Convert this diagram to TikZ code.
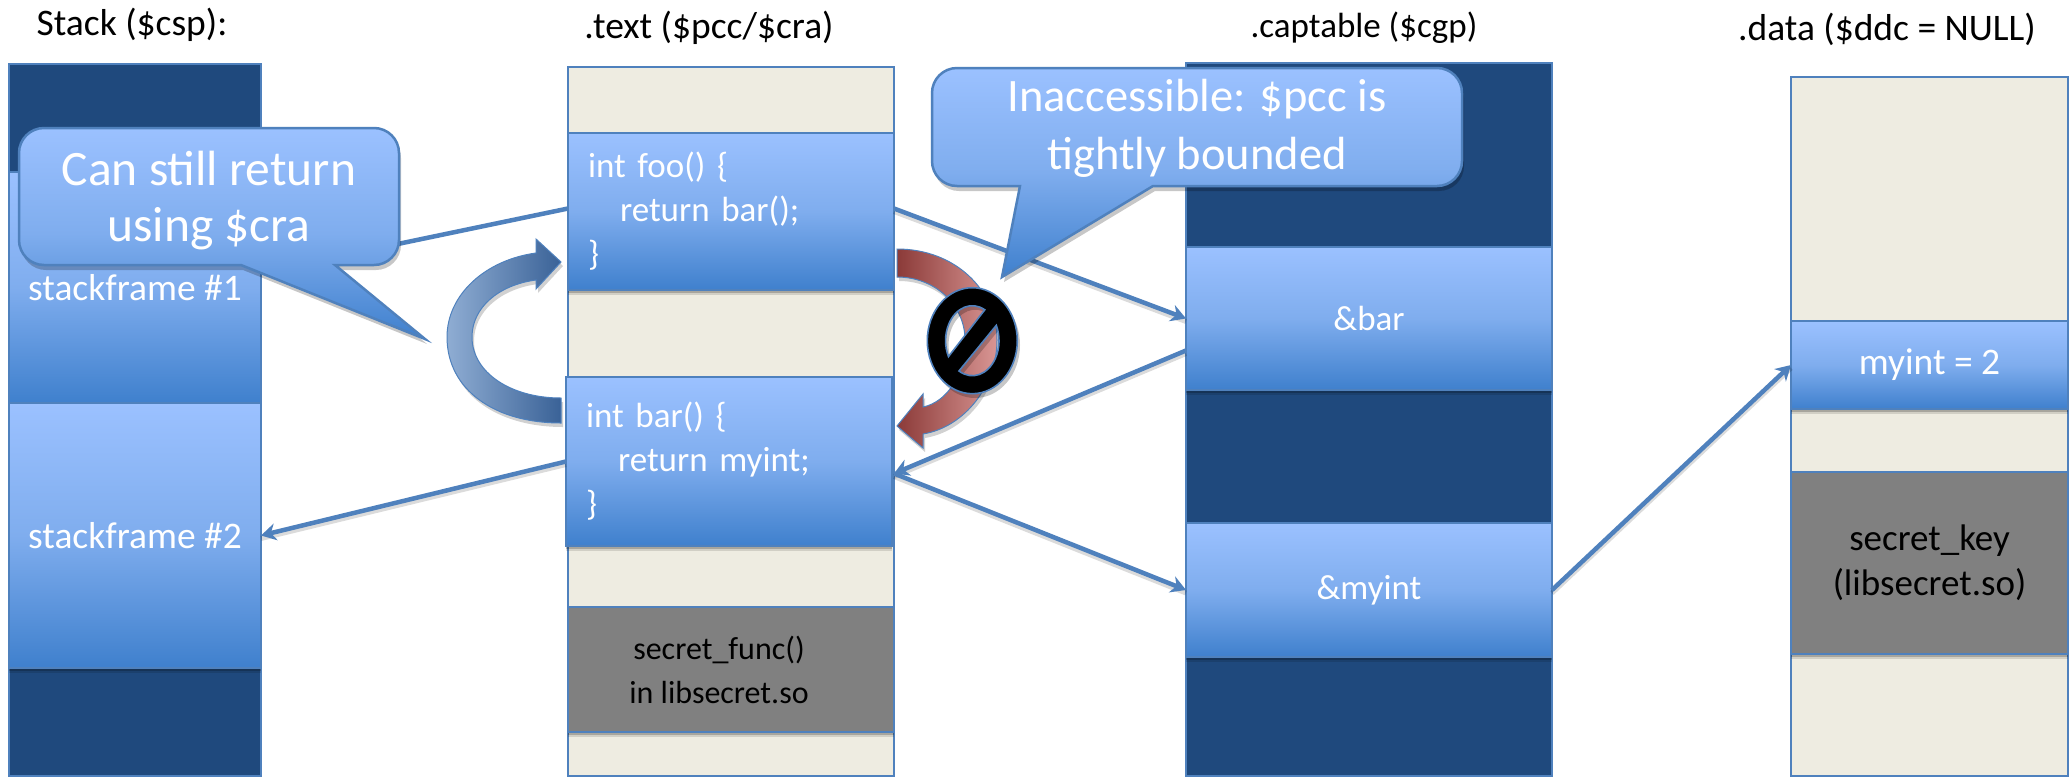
\documentclass[tikz,border=0pt]{standalone}
\usepackage{fontspec}
\setmainfont{Carlito}
\usetikzlibrary{arrows.meta,shadows,fadings}
\definecolor{edgeblue}{HTML}{4F81BD}
\definecolor{navy}{HTML}{1F497D}
\definecolor{cream}{HTML}{EEECE1}
\definecolor{boxgrey}{HTML}{808080}
\definecolor{gradtop}{HTML}{9BC1FF}
\definecolor{gradmid}{HTML}{7FADEE}
\definecolor{gradbot}{HTML}{3F80CD}
\definecolor{blueL}{HTML}{8FADD3}
\definecolor{blueR}{HTML}{3A6297}
\definecolor{redL}{HTML}{8B3A38}
\definecolor{redM}{HTML}{C0504D}
\definecolor{redR}{HTML}{D99694}
\tikzset{
  softshadow/.style={drop shadow={shadow xshift=0pt,shadow yshift=-5pt,opacity=.12,fill=black},
                     drop shadow={shadow xshift=0pt,shadow yshift=-3pt,opacity=.2,fill=black}},
  column/.style={draw=edgeblue,line width=2.5pt,inner sep=0pt,outer sep=0pt},
  navycol/.style={column,fill=navy},
  creamcol/.style={column,fill=cream},
  gradbox/.style={column,softshadow,top color=gradtop,bottom color=gradbot,middle color=gradmid,text=white,
     font=\fontsize{35}{44}\selectfont,align=center},
  codebox/.style={gradbox,align=left,text width=#1,inner xsep=20pt},
  greybox/.style={column,softshadow,fill=boxgrey,text=black,font=\fontsize{37}{45}\selectfont,align=center},
  title/.style={text=black,font=\fontsize{37.5}{42}\selectfont,inner sep=0pt},
  conn/.style={draw=edgeblue,line width=4.5pt,-{Stealth[length=15pt,width=17pt]},
     preaction={draw=black,draw opacity=.14,line width=5pt,arrows=-,transform canvas={yshift=-3pt}}},
  plainconn/.style={draw=edgeblue,line width=4.5pt},
  bubble/.style={draw=edgeblue,line width=2.5pt,top color=gradtop,bottom color=gradbot,middle color=gradmid,
     drop shadow={shadow xshift=2pt,shadow yshift=-5pt,opacity=.22,fill=black}},
  bubbletext/.style={text=white,font=\fontsize{49.5}{56}\selectfont,align=center,inner sep=0pt},
  bluecurve/.style={draw=edgeblue,line width=1pt,left color=blueL,right color=blueR,
     drop shadow={shadow xshift=2pt,shadow yshift=-4pt,opacity=.18,fill=black}},
  redcurve/.style={draw=edgeblue,line width=1pt,left color=redL,middle color=redM,right color=redR,
     drop shadow={shadow xshift=2pt,shadow yshift=-4pt,opacity=.18,fill=black}},
  nosym/.style={even odd rule,fill=black,draw=edgeblue,line width=1.6pt},
  nosymshadow/.style={even odd rule,fill=black,opacity=.22}
}
\begin{document}
\begin{tikzpicture}[x=1pt,y=-1pt]
\useasboundingbox (0,0) rectangle (2069,777);
\fill[white] (0,0) rectangle (2069,777);
% titles
\node[title] (t1) at (132,25) {Stack (\$csp):};
\node[title] (t2) at (709,28) {.text (\$pcc/\$cra)};
\node[title,font=\fontsize{35}{42}\selectfont] (t3) at (1364,28) {.captable (\$cgp)};
\node[title] (t4) at (1887,29) {.data (\$ddc = NULL)};
% columns
\node[navycol,minimum width=252pt,minimum height=712pt] (stack) at (135,420) {};
\node[creamcol,minimum width=326pt,minimum height=709pt] (text) at (731,421.5) {};
\node[navycol,minimum width=366pt,minimum height=713pt] (cap) at (1369,419.5) {};
\node[creamcol,minimum width=277pt,minimum height=699pt] (data) at (1929.5,426.5) {};
% boxes
\node[gradbox,font=\fontsize{37.5}{44}\selectfont,minimum width=252pt,minimum height=231pt] (sf1) at (135,287.5) {stackframe \#1};
\node[gradbox,font=\fontsize{37.5}{44}\selectfont,minimum width=252pt,minimum height=265pt] (sf2) at (135,535.5) {stackframe \#2};
\node[codebox=286pt,minimum width=326pt,minimum height=157pt] (foo) at (731,211.5)
  {int foo() \{\\\hspace*{32pt}return bar();\\\}};
\node[codebox=286pt,minimum width=326pt,minimum height=169pt] (bar) at (729,461.5)
  {int bar() \{\\\hspace*{32pt}return myint;\\\}};
\node[greybox,font=\fontsize{32}{44}\selectfont,minimum width=326pt,minimum height=125pt] (sfunc) at (731,669.5)
  {secret\_func()\hspace*{24pt}\\in libsecret.so\hspace*{24pt}};
\node[gradbox,minimum width=366pt,minimum height=143pt] (abar) at (1369,318.5) {\&bar};
\node[gradbox,minimum width=366pt,minimum height=134pt] (amyint) at (1369,590) {\&myint};
\node[gradbox,font=\fontsize{37.5}{44}\selectfont,minimum width=277pt,minimum height=88pt] (myint) at (1929.5,365) {myint = 2};
\node[greybox,minimum width=277pt,minimum height=182pt] (skey) at (1929.5,563) {secret\_key\\(libsecret.so)};
% connectors
\draw[plainconn] ([yshift=3pt]foo.west) -- ([yshift=15pt]sf1.east);
\draw[conn] (bar.west) -- (sf2.east);
\draw[conn] ([yshift=3pt]foo.east) -- (abar.west);
\draw[conn] ([yshift=-32pt]abar.west) -- ([xshift=2pt,yshift=-12pt]bar.east);
\draw[conn] ([xshift=2pt,yshift=-12pt]bar.east) -- (amyint.west);
\draw[conn] (amyint.east) -- (myint.west);
% curved arrows
\path[bluecurve] (561,423) .. controls (495,423) and (447,390) .. (447,337)
  .. controls (447,295) and (485,260) .. (536,253) -- (536,239) -- (561,262) -- (536,289) -- (536,280)
  .. controls (498,285) and (472,308) .. (472,337)
  .. controls (472,372) and (510,398) .. (561,398) -- cycle;
\path[redcurve] (897,249) .. controls (955,249) and (997,290) .. (997,340)
  .. controls (997,385) and (965,427) .. (923,434) -- (923,448) -- (897,426) -- (923,394) -- (923,407)
  .. controls (947,402) and (965,375) .. (965,340)
  .. controls (965,305) and (935,277) .. (897,277) -- cycle;
% no-entry sign
\path[nosymshadow] (975,345) ellipse[x radius=45pt,y radius=53pt]
  (987.8,313.8) arc[start angle=62,end angle=207,x radius=26.7pt,y radius=35pt] -- cycle
  (961.95,375) arc[start angle=240,end angle=386,x radius=26.7pt,y radius=35pt] -- cycle;
\path[nosym] (972.3,340.7) ellipse[x radius=45pt,y radius=53pt]
  (984.8,309.8) arc[start angle=62,end angle=207,x radius=26.7pt,y radius=35pt] -- cycle
  (958.95,371) arc[start angle=240,end angle=386,x radius=26.7pt,y radius=35pt] -- cycle;
% callouts
\path[bubble] (44,128) -- (374,128) arc[start angle=90,end angle=0,radius=25pt] -- (399,240)
  arc[start angle=0,end angle=-90,radius=25pt] -- (335,265) -- (425,339) -- (241,265) -- (44,265)
  arc[start angle=270,end angle=180,radius=25pt] -- (19,153) arc[start angle=180,end angle=90,radius=25pt] -- cycle;
\node[bubbletext] (c1) at (209,201) {Can still return\\using \$cra};
\path[bubble] (957,68) -- (1437,68) arc[start angle=90,end angle=0,radius=25pt] -- (1462,161)
  arc[start angle=0,end angle=-90,radius=25pt] -- (1153,186) -- (1002,277) -- (1020,186) -- (957,186)
  arc[start angle=270,end angle=180,radius=25pt] -- (932,93) arc[start angle=180,end angle=90,radius=25pt] -- cycle;
\node[bubbletext,font=\fontsize{46.5}{58}\selectfont] (c2) at (1197,128) {Inaccessible: \$pcc is\\tightly bounded};
\end{tikzpicture}
\end{document}
